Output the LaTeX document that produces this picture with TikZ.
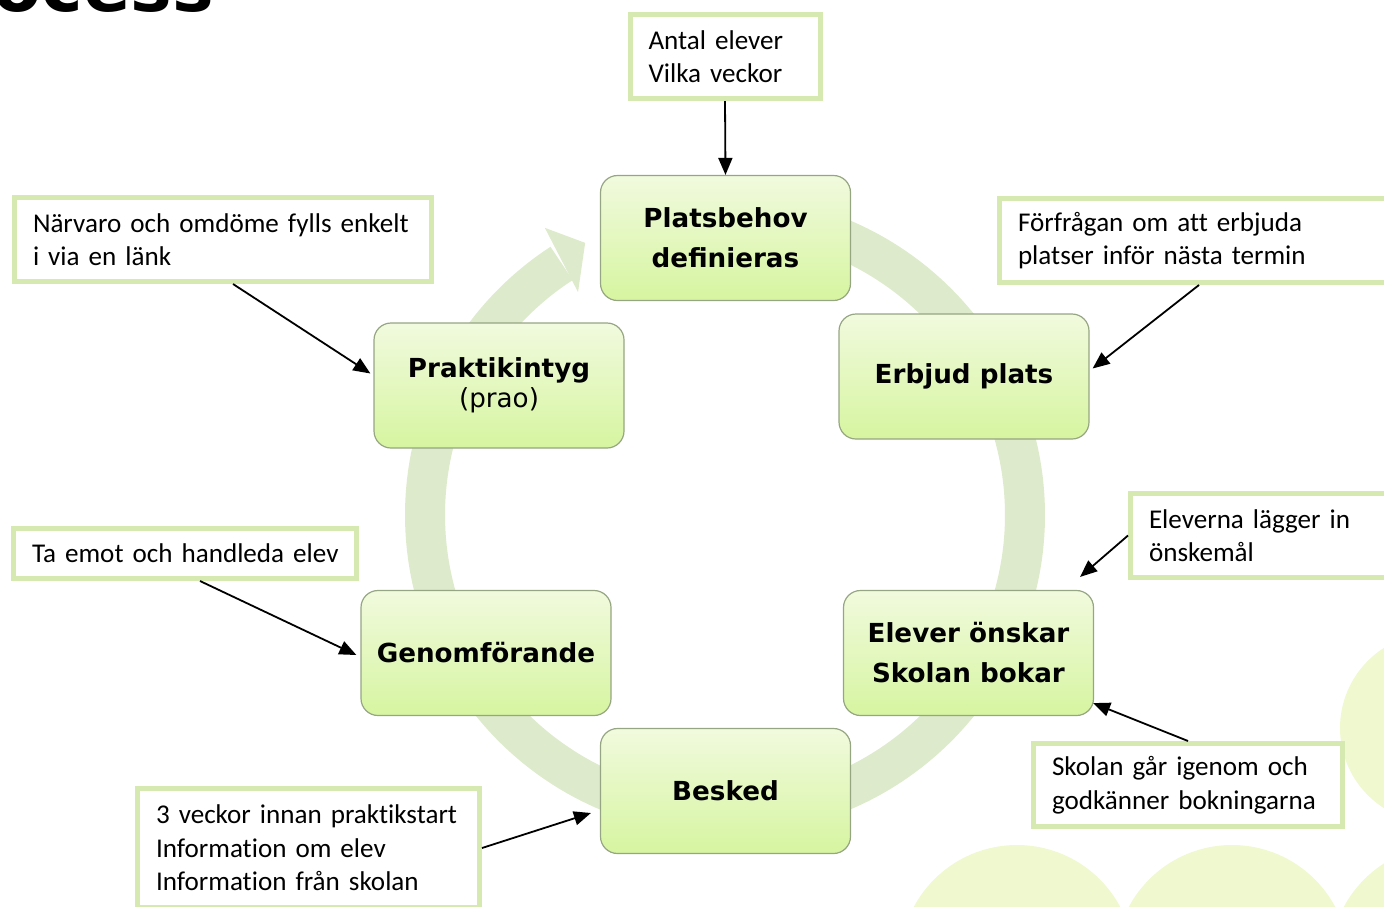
\documentclass[tikz,border=0pt]{standalone}
\usepackage{fontspec}
\setmainfont{Carlito}[Ligatures=NoCommon]
\newfontfamily\vfont{DejaVu Sans}
\usetikzlibrary{arrows.meta}
\definecolor{ringc}{RGB}{221,234,203}
\definecolor{bgc}{RGB}{240,248,208}
\definecolor{calc}{RGB}{214,233,176}
\definecolor{boxc}{RGB}{150,165,130}
\definecolor{boxtop}{RGB}{241,250,222}
\definecolor{boxbot}{RGB}{214,245,160}
\begin{document}
\begin{tikzpicture}[x=1pt,y=-1pt,
  stepbox/.style={draw=boxc, line width=1.2pt, rounded corners=17pt,
    top color=boxtop, bottom color=boxbot, minimum width=250pt,
    minimum height=125pt, align=center, inner sep=0pt,
    font=\vfont\bfseries\fontsize{26.2}{40}\selectfont},
  callout/.style={draw=calc, line width=5pt, fill=white, align=left,
    inner xsep=18.5pt, inner ysep=0pt,
    font=\fontsize{27.1}{33.5}\selectfont},
  arr/.style={line width=1.8pt, -{Triangle[length=17pt,width=14pt]}}]
\useasboundingbox (0,0) rectangle (1384,906);
\clip (0,0) rectangle (1384,906);
% background circles
\fill[bgc] (1435,728) circle[radius=95pt];
\fill[bgc] (1017,962) circle[radius=117pt];
\fill[bgc] (1232,962) circle[radius=117pt];
\fill[bgc] (1447,962) circle[radius=117pt];
% heading fragment (cut off at the top edge, as in the reference)
\node[font=\vfont\bfseries\fontsize{70}{70}\selectfont, anchor=base east, inner sep=0pt] (head) at (214,11) {Process};
% ring arrow
\begin{scope}[shift={(725,515)}]
  \draw[ringc, line width=40pt] plot[domain=-100:237, samples=160, smooth] (\x:300);
  \fill[ringc] (-117.2:306) -- (-122.1:339) -- (-123.4:267) -- cycle;
\end{scope}
% process boxes
\node[stepbox] (plats) at (725.5,238) {Platsbehov\\definieras};
\node[stepbox] (erb) at (964,376.5) {Erbjud plats};
\node[stepbox] (elo) at (968.5,653) {Elever önskar\\Skolan bokar};
\node[stepbox] (bes) at (725.5,791) {Besked};
\node[stepbox] (gen) at (486,653) {Genomförande};
\node[stepbox] (prak) at (499,385.5) {Praktikintyg\\[-10pt]{\mdseries (prao)}};
% callouts
\node[callout, text width=153pt, minimum height=84pt] (ant) at (725,56.5)
  {\mbox{Antal elever}\\\mbox{Vilka veckor}};
\node[callout, text width=380pt, minimum height=84pt] (narv) at (223,239.5)
  {\mbox{Närvaro och omdöme fylls enkelt}\\\mbox{i via en länk}};
\node[callout, text width=381pt, minimum height=84pt] (forf) at (1208.5,240.5)
  {\mbox{Förfrågan om att erbjuda}\\\mbox{platser inför nästa termin}};
\node[callout, text width=250pt, minimum height=84pt] (elev) at (1274,535.5)
  {\mbox{Eleverna lägger in}\\\mbox{önskemål}};
\node[callout, text width=306pt, minimum height=50pt] (taem) at (185,553.5)
  {\mbox{Ta emot och handleda elev}};
\node[callout, text width=272pt, minimum height=83pt] (skol) at (1188,785)
  {\mbox{Skolan går igenom och}\\\mbox{godkänner bokningarna}};
\node[callout, text width=305pt, minimum height=119pt] (tre) at (308.5,848)
  {\mbox{3 veckor innan praktikstart}\\\mbox{Information om elev}\\\mbox{Information från skolan}};
% connectors
\draw[arr] (ant.south) -- (plats.north);
\draw[arr] ([xshift=221pt]narv.south west) -- ([xshift=-3pt,yshift=12pt]prak.west);
\draw[arr] ([xshift=202pt]forf.south west) -- ([xshift=3pt,yshift=8pt]erb.east);
\draw[arr] (elev.west) -- ([xshift=-14pt,yshift=13pt]elo.north east);
\draw[arr] ([xshift=189pt]taem.south west) -- ([xshift=-4pt,yshift=-2pt]gen.west);
\draw[arr] ([xshift=157pt]skol.north west) -- ([xshift=-1pt,yshift=13pt]elo.south east);
\draw[arr] (tre.east) -- ([xshift=-9pt,yshift=-22pt]bes.west);
\end{tikzpicture}
\end{document}
